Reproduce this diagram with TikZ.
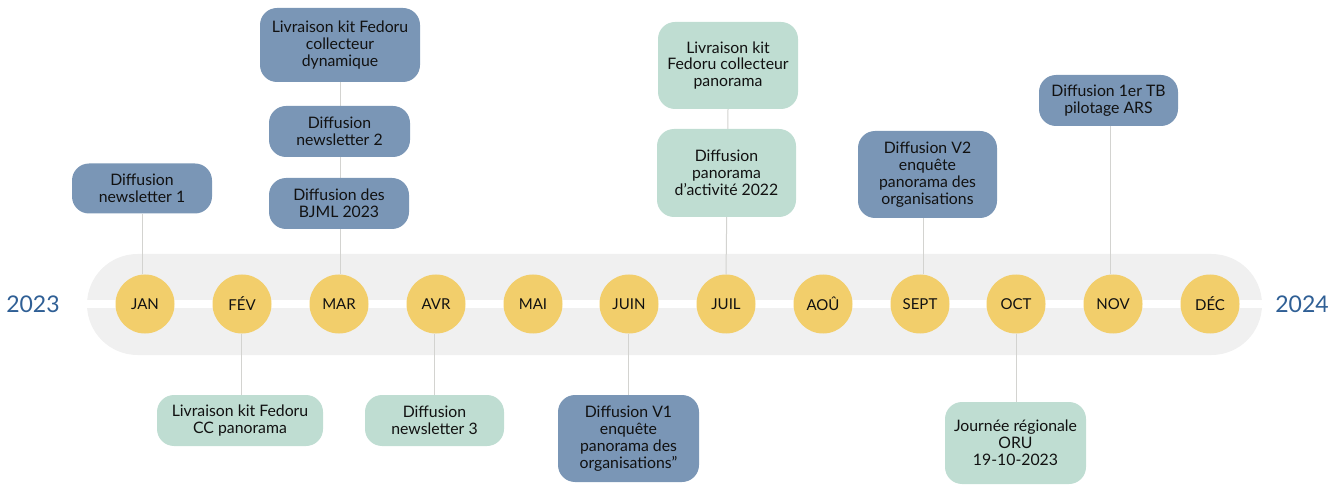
\documentclass[tikz,border=0pt]{standalone}
\usepackage{fontspec}
\setmainfont{Lato}
\pgfdeclarelayer{bg}
\pgfdeclarelayer{links}
\pgfsetlayers{bg,links,main}
\definecolor{bandgray}{HTML}{F0F0F0}
\definecolor{monthyellow}{HTML}{F2CE6B}
\definecolor{evblue}{HTML}{7A96B6}
\definecolor{evgreen}{HTML}{BFDDD2}
\definecolor{yearblue}{HTML}{2F5F95}
\definecolor{linkgray}{HTML}{D3D3D0}
\definecolor{txt}{HTML}{111111}
\tikzset{
  month/.style={circle, fill=monthyellow, minimum size=59pt, inner sep=0pt, text=txt, font=\fontsize{15}{17}\selectfont},
  evbox/.style={rounded corners=17pt, align=center, inner sep=0pt, text=txt, font=\fontsize{15.8}{16.8}\selectfont},
  bluebox/.style={evbox, fill=evblue},
  greenbox/.style={evbox, fill=evgreen},
  year/.style={text=yearblue, font=\fontsize{23}{26}\selectfont},
  link/.style={draw=linkgray, line width=1pt}
}
\begin{document}
\begin{tikzpicture}[x=1pt,y=-1pt]
\useasboundingbox (0,0) rectangle (1341,486);
\begin{pgfonlayer}{bg}
\fill[bandgray, rounded corners=50.5pt] (87,254) rectangle (1262,355);
\fill[white] (87,300) rectangle (1262,308);
\end{pgfonlayer}
% years
\node[year] (y23) at (33,304) {2023};
\node[year] (y24) at (1302,304) {2024};
% months
\node[month] (jan) at (145,304) {JAN};
\node[month] (fev) at (242,304) {FÉV};
\node[month] (mar) at (339,304) {MAR};
\node[month] (avr) at (436,304) {AVR};
\node[month] (mai) at (533,304) {MAI};
\node[month] (juin) at (629,304) {JUIN};
\node[month] (juil) at (726,304) {JUIL};
\node[month] (aou) at (823,304) {AOÛ};
\node[month] (sept) at (920,304) {SEPT};
\node[month] (oct) at (1016,304) {OCT};
\node[month] (nov) at (1113,304) {NOV};
\node[month] (dec) at (1210,304) {DÉC};
% top events
\node[bluebox, minimum width=140pt, minimum height=50pt] (nl1) at (142,188.5) {Diffusion\\newsletter 1};
\node[bluebox, minimum width=160pt, minimum height=74pt] (kitdyn) at (340,45) {Livraison kit Fedoru\\collecteur\\dynamique};
\node[bluebox, minimum width=141pt, minimum height=51pt] (nl2) at (339.5,131.5) {Diffusion\\newsletter 2};
\node[bluebox, minimum width=140pt, minimum height=51pt] (bjml) at (339,203.5) {Diffusion des\\BJML 2023};
\node[greenbox, minimum width=140pt, minimum height=87pt] (kitpan) at (728,65.5) {Livraison kit\\Fedoru collecteur\\panorama};
\node[greenbox, minimum width=139pt, minimum height=88pt] (panact) at (726.5,173) {Diffusion\\panorama\\d’activité 2022};
\node[bluebox, minimum width=139pt, minimum height=87pt] (v2) at (927.5,174.5) {Diffusion V2\\enquête\\panorama des\\organisations};
\node[bluebox, minimum width=139pt, minimum height=51pt] (tb) at (1108.5,100.5) {Diffusion 1er TB\\pilotage ARS};
% bottom events
\node[greenbox, minimum width=166pt, minimum height=51pt] (kitcc) at (240,420.5) {Livraison kit Fedoru\\CC panorama};
\node[greenbox, minimum width=139pt, minimum height=51pt] (nl3) at (434.5,420.5) {Diffusion\\newsletter 3};
\node[bluebox, minimum width=141pt, minimum height=87pt] (v1) at (628.5,438.5) {Diffusion V1\\enquête\\panorama des\\organisations\symbol{34}};
\node[greenbox, minimum width=141pt, minimum height=82pt] (jr) at (1015.5,443) {Journée régionale\\ORU\\19-10-2023};
% connectors
\begin{pgfonlayer}{links}
\draw[link] (nl1.south) -- (nl1.south |- jan.north);
\draw[link] (kitdyn.south) -- (kitdyn.south |- mar.north);
\draw[link] (kitpan.south) -- (juil.north);
\draw[link] (v2.south -| 923,0) -- (sept.north -| 923,0);
\draw[link] (tb.south -| 1110,0) -- (nov.north -| 1110,0);
\draw[link] (fev.south -| 241,0) -- (kitcc.north -| 241,0);
\draw[link] (avr.south -| 434,0) -- (nl3.north -| 434,0);
\draw[link] (juin.south -| 628,0) -- (v1.north -| 628,0);
\draw[link] (oct.south) -- (jr.north -| oct.south);
\end{pgfonlayer}
\end{tikzpicture}
\end{document}
